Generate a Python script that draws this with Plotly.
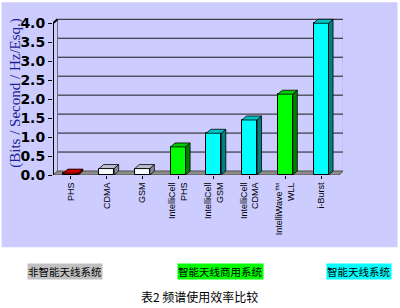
import plotly.graph_objects as go

# ---- data ----
categories = ["PHS", "CDMA", "GSM", "IntelliCell<br>PHS", "IntelliCell<br>GSM",
              "IntelliCell<br>CDMA", "IntelliWave™<br>WLL", "i-Burst"]
values = [0.05, 0.17, 0.17, 0.74, 1.10, 1.45, 2.13, 4.0]
groups = ["red", "white", "white", "green", "cyan", "cyan", "green", "cyan"]
y_ticks = [0.0, 0.5, 1.0, 1.5, 2.0, 2.5, 3.0, 3.5, 4.0]
y_title = "(Bits / Second / Hz/Esq.)"
legend_texts = ["非智能天线系统", "智能天线商用系统", "智能天线系统"]
caption = "表2 频谱使用效率比较"

# ---- style ----
front_col = {"red": "#FF0000", "white": "#F8F8FF", "green": "#00FF00", "cyan": "#00FFFF"}
top_col = {"red": "#D00000", "white": "#BDBDCB", "green": "#00C800", "cyan": "#00C4C4"}
side_col = {"red": "#800000", "white": "#8A8A9A", "green": "#008000", "cyan": "#008080"}
legend_bg = ["#C0C0C0", "#00FF00", "#00FFFF"]

W, H = 400, 308
L, R = 53.4, 343.5          # plot area px
T, B = 17.7, 175.0
PX_X = 35.75                # px per category
PX_Y = 38.0                 # px per unit value
x_lo = -0.5
x_hi = x_lo + (R - L) / PX_X
y_lo = 0.0
y_hi = (B - T) / PX_Y
dx = 4.5 / PX_X             # 3D depth offsets (data units)
dy = 4.0 / PX_Y
bw = 0.42                   # bar front width

def xp(px):
    return (px - L) / (R - L)

def yp(py):
    return (B - py) / (B - T)

fig = go.Figure()

shapes = []
# lavender panel
shapes.append(dict(type="rect", xref="paper", yref="paper", layer="below",
                   x0=xp(2), x1=xp(398), y0=yp(247.5), y1=yp(2),
                   fillcolor="#CCCCFF", line=dict(width=0)))
# back wall gridlines
n = len(categories)
for v in y_ticks[1:]:
    shapes.append(dict(type="line", xref="x", yref="y", layer="below",
                       x0=-0.5 + dx, x1=n - 0.5 + dx, y0=v + dy, y1=v + dy,
                       line=dict(color="#1a1a1a", width=1)))
# back wall edges
for xe in (-0.5 + dx, n - 0.5 + dx):
    shapes.append(dict(type="line", xref="x", yref="y", layer="below",
                       x0=xe, x1=xe, y0=dy, y1=y_ticks[-1] + dy,
                       line=dict(color="#707080", width=1)))
# floor
shapes.append(dict(type="path", xref="x", yref="y", layer="below",
                   path=f"M {-0.5} 0 L {n-0.5} 0 L {n-0.5+dx} {dy} L {-0.5+dx} {dy} Z",
                   fillcolor="#8C8C8C", line=dict(color="#505050", width=1)))

# front faces
fig.add_trace(go.Bar(x=list(range(n)), y=values, width=bw,
                     marker=dict(color=[front_col[g] for g in groups],
                                 line=dict(color="#000000", width=1)),
                     hoverinfo="skip", showlegend=False))

# side and top faces
for i, (v, g) in enumerate(zip(values, groups)):
    xr = i + bw / 2
    xl = i - bw / 2
    fig.add_trace(go.Scatter(x=[xr, xr + dx, xr + dx, xr, xr],
                             y=[0, dy, v + dy, v, 0],
                             mode="lines", fill="toself", fillcolor=side_col[g],
                             line=dict(color="#000000", width=0.8),
                             hoverinfo="skip", showlegend=False))
    fig.add_trace(go.Scatter(x=[xl, xr, xr + dx, xl + dx, xl],
                             y=[v, v, v + dy, v + dy, v],
                             mode="lines", fill="toself", fillcolor=top_col[g],
                             line=dict(color="#000000", width=0.8),
                             hoverinfo="skip", showlegend=False))

# front-left axis line and corner
fig.add_trace(go.Scatter(x=[-0.5, -0.5, -0.5 + dx], y=[0, y_ticks[-1], y_ticks[-1] + dy],
                         mode="lines", line=dict(color="#000000", width=2),
                         hoverinfo="skip", showlegend=False))

annotations = [
    dict(text=y_title, xref="paper", yref="paper", x=xp(16), y=yp(93),
         textangle=-90, showarrow=False, xanchor="center", yanchor="middle",
         font=dict(family="Liberation Serif", size=15, color="#1E1E96")),
]
leg_x = [65, 220.5, 360]
for t, bg, xx in zip(legend_texts, legend_bg, leg_x):
    annotations.append(dict(text=t, xref="paper", yref="paper", x=xp(xx), y=yp(271.5),
                            showarrow=False, xanchor="center", yanchor="middle",
                            bgcolor=bg, borderpad=0,
                            font=dict(family="Noto Sans CJK SC", size=10.5, color="#000000")))
annotations.append(dict(text=caption, xref="paper", yref="paper", x=xp(200), y=yp(297),
                        showarrow=False, xanchor="center", yanchor="middle",
                        font=dict(family="Noto Sans CJK SC", size=12, color="#000000")))

fig.update_layout(
    width=W, height=H,
    margin=dict(l=L, r=W - R, t=T, b=H - B, pad=0),
    paper_bgcolor="#FFFFFF", plot_bgcolor="rgba(0,0,0,0)",
    shapes=shapes, annotations=annotations, bargap=0,
    xaxis=dict(range=[x_lo, x_hi], tickmode="array", tickvals=list(range(n)),
               ticktext=categories, tickangle=-90, tickson="boundaries",
               ticks="outside", ticklen=3, tickcolor="#000000",
               showgrid=False, zeroline=False, showline=False,
               tickfont=dict(family="Liberation Sans", size=9, color="#000000")),
    yaxis=dict(range=[y_lo, y_hi], tickmode="array", tickvals=y_ticks,
               ticktext=[f"{v:.1f}" for v in y_ticks],
               ticks="outside", ticklen=4, tickcolor="#000000",
               showgrid=False, zeroline=False, showline=False,
               tickfont=dict(family="DejaVu Sans", size=14, color="#000000", weight="bold")),
)

fig.write_html("out.html")
